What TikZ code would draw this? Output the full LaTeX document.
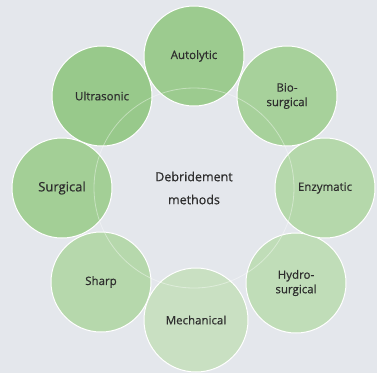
\documentclass[tikz,border=0pt]{standalone}
\usepackage{fontspec}
\setmainfont{Open Sans}
\newfontfamily\medfont[FakeBold=0.6]{Open Sans}
\definecolor{bg}{HTML}{E4E7EC}
\definecolor{txt}{HTML}{2E2E2E}
\definecolor{cA}{HTML}{9CCB8F}
\definecolor{cB}{HTML}{A7D19B}
\definecolor{cC}{HTML}{B5D8AB}
\definecolor{cD}{HTML}{C0DDB8}
\definecolor{cE}{HTML}{C9E0C2}
\definecolor{cF}{HTML}{B6D8AC}
\definecolor{cG}{HTML}{A3CF96}
\definecolor{cH}{HTML}{98C98B}
\begin{document}
\begin{tikzpicture}[x=1pt,y=-1pt,
  item/.style={circle,draw=white,line width=1pt,minimum size=100pt,inner sep=0pt,
    align=center,text=txt,font=\medfont\fontsize{11.5}{14.5}\selectfont},
  ring/.style={draw=white,line width=0.8pt,opacity=0.4}]
\fill[bg] (0,0) rectangle (377,373);
\useasboundingbox (0,0) rectangle (377,373);
\coordinate (c) at (194,188);
\node[item,fill=cH] (ultra) at (102,96) {Ultrasonic};
\node[item,fill=cG,font=\medfont\fontsize{13}{15}\selectfont] (surg) at (62,188) {Surgical};
\node[item,fill=cF] (sharp) at (101,282) {Sharp};
\node[item,fill=cD] (hydro) at (296,283) {Hydro-\\surgical};
\node[item,fill=cC] (enz) at (325,188) {Enzymatic};
\node[item,fill=cB] (bio) at (287,96) {Bio-\\surgical};
\node[item,fill=cE,minimum size=104pt] (mech) at (196,320) {Mechanical};
\node[item,fill=cA] (auto) at (194,56) {Autolytic};
\draw[ring] (c) circle[radius=100pt];
\node[text=txt,align=center,font=\medfont\fontsize{12.5}{23}\selectfont] (title) at (c) {Debridement\\methods};
\end{tikzpicture}
\end{document}
